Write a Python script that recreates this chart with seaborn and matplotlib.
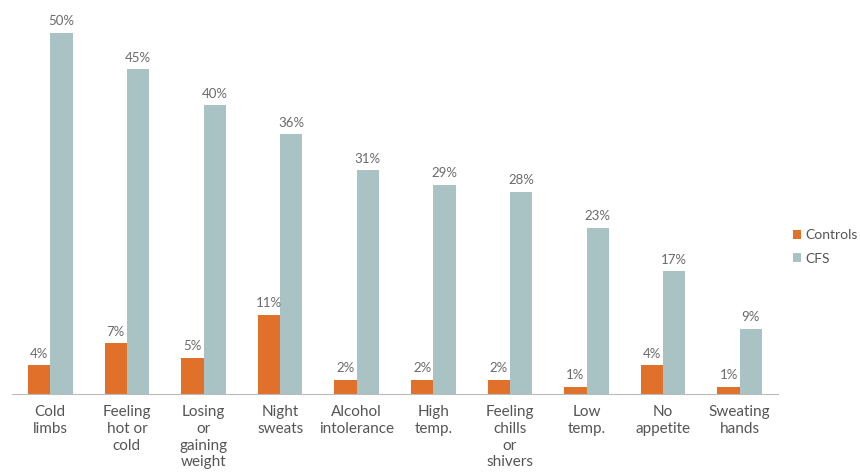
import matplotlib
matplotlib.use("Agg")
import matplotlib.pyplot as plt
import seaborn as sns
import pandas as pd
import numpy as np

categories = ["Cold\nlimbs", "Feeling\nhot or\ncold", "Losing\nor\ngaining\nweight", "Night\nsweats",
              "Alcohol\nintolerance", "High\ntemp.", "Feeling\nchills\nor\nshivers", "Low\ntemp.",
              "No\nappetite", "Sweating\nhands"]
controls = [4, 7, 5, 11, 2, 2, 2, 1, 4, 1]
cfs = [50, 45, 40, 36, 31, 29, 28, 23, 17, 9]
series = ["Controls", "CFS"]
colors = ["#E0702A", "#A9C3C5"]

df = pd.DataFrame({
    "cat": categories * 2,
    "val": controls + cfs,
    "series": ["Controls"] * len(categories) + ["CFS"] * len(categories),
})

sns.set_style("white")
plt.rcParams["font.family"] = ["Lato", "DejaVu Sans"]
fig = plt.figure(figsize=(8.6, 4.73), dpi=100)
ax = fig.add_axes([12/860, 79/473, (778-12)/860, (394-20)/473])
sns.barplot(data=df, x="cat", y="val", hue="series", hue_order=series,
            palette=colors, width=0.58, gap=0, ax=ax, legend=False,
            saturation=1, edgecolor="none")
ax.set_ylim(0, 51.8)
ax.set_xlim(-0.5, len(categories) - 0.5)
for c in ax.containers:
    ax.bar_label(c, fmt="%g%%", padding=4, fontsize=9.5, color="#6A6A6A")
for s in ["top", "right", "left"]:
    ax.spines[s].set_visible(False)
ax.spines["bottom"].set_color("#BBBBBB")
ax.set_yticks([])
ax.set_xlabel("")
ax.set_ylabel("")
ax.tick_params(axis="x", which="major", length=0, pad=8, labelsize=11, labelcolor="#555555")
ax.set_xticks(np.arange(-0.5, len(categories) + 0.5, 1), minor=True)
ax.tick_params(axis="x", which="minor", length=5, color="#BBBBBB", direction="out")
for t in ax.get_xticklabels():
    t.set_linespacing(1.25)

from matplotlib.patches import Patch
handles = [Patch(facecolor=c, edgecolor="none") for c in colors]
fig.legend(handles, series, loc="center left", bbox_to_anchor=(780/860, 1 - 247/473),
           frameon=False, prop={"size": 10}, labelcolor="#555555",
           handlelength=0.6, handleheight=0.6, handletextpad=0.3, labelspacing=0.8)
fig.savefig("out.png", dpi=100)
